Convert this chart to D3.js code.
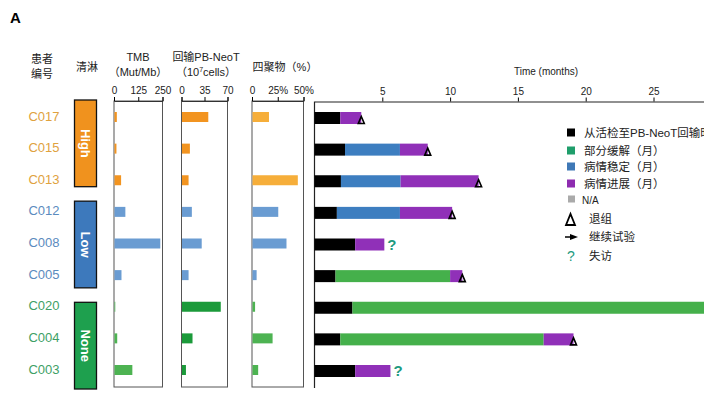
<!DOCTYPE html>
<html>
<head>
<meta charset="utf-8">
<script src="https://cdn.jsdelivr.net/npm/d3@7"></script>
<style>
  body { margin: 0; background: #fff; }
  svg text { font-family: "Liberation Sans", Arial, "Noto Sans CJK SC", sans-serif; }
  .narrow { font-family: "Liberation Sans Narrow", "Arial Narrow", "Liberation Sans", sans-serif !important; }
  .cjk { font-family: "Liberation Sans", "Noto Sans CJK SC", sans-serif !important; }
</style>
</head>
<body>
<div id="chart"></div>
<script>
// patients, top to bottom
const patients = ['C017', 'C015', 'C013', 'C012', 'C008', 'C005', 'C020', 'C004', 'C003'];
const groups = ['High', 'High', 'High', 'Low', 'Low', 'Low', 'None', 'None', 'None'];
const groupNames = ['High', 'Low', 'None'];

// small panels
const tmb = [12, 10, 34, 56, 236, 36, 4, 14, 92];
const neoT = [40, 12, 10, 15, 30, 10, 59, 16, 6];
const tetramer = [16, 0, 44, 25, 33, 4, 2.5, 19.5, 5.5];
const tmbTicks = [0, 125, 250];
const neoTicks = [0, 35, 70];
const tetTicks = [0, 25, 50];

// swimmer segments (months)
const toInfusion = [1.9, 2.25, 1.95, 1.65, 3.0, 1.55, 2.8, 1.9, 3.0];
const partial = [0, 0, 0, 0, 0, 8.45, 27.2, 15.0, 0];
const stable = [0, 4.05, 4.4, 4.65, 0, 0, 0, 0, 0];
const progress = [1.55, 2.05, 5.75, 3.85, 2.15, 0.9, 0, 2.2, 2.6];
const endMark = ['tri', 'tri', 'tri', 'tri', 'q', 'tri', '', 'tri', 'q'];
const timeTicks = [5, 10, 15, 20, 25];

const legendItems = ['从活检至PB-NeoT回输时间（月）', '部分缓解（月）', '病情稳定（月）', '病情进展（月）', 'N/A'];
const legendMarks = ['退组', '继续试验', '失访'];

const width = 704, height = 396;
const svg = d3.select('#chart').append('svg')
  .attr('width', width).attr('height', height);

const labelColor = { High: '#E0A23E', Low: '#5B8BBE', None: '#3E9F66' };
const boxColor = { High: '#F0921E', Low: '#3D79BC', None: '#1EA04E' };
const barColor = { High: '#F29420', Low: '#6A9CD2', None: '#4DB352' };
const neoColor = { High: '#F29420', Low: '#6A9CD2', None: '#1B9A3A' };
const tetColor = { High: '#F6AE3A', Low: '#6A9CD2', None: '#4DB352' };
const segColors = { black: '#000000', partial: '#45B04B', stable: '#3D7EC0', progress: '#9030B8' };

const y = d3.scalePoint().domain(patients).range([117, 370]);

svg.append('text').attr('x', 10).attr('y', 23)
  .style('font-weight', 700).style('font-size', '15px').text('A');

// headers
const hdr = svg.append('g').attr('class', 'cjk').style('font-size', '11px').attr('text-anchor', 'middle').attr('fill', '#222');
hdr.append('text').attr('class', 'cjk').attr('x', 42).attr('y', 63).text('患者');
hdr.append('text').attr('class', 'cjk').attr('x', 42).attr('y', 78).text('编号');
hdr.append('text').attr('class', 'cjk').attr('x', 87).attr('y', 71).text('清淋');
hdr.append('text').attr('class', 'cjk').attr('x', 138).attr('y', 61).text('TMB');
hdr.append('text').attr('class', 'cjk').attr('x', 138).attr('y', 76).text('（Mut/Mb）');
hdr.append('text').attr('class', 'cjk').attr('x', 206).attr('y', 61).text('回输PB-NeoT');
const t2 = hdr.append('text').attr('class', 'cjk').attr('x', 206).attr('y', 76);
t2.append('tspan').text('（10');
t2.append('tspan').attr('dy', -4).style('font-size', '7px').text('7');
t2.append('tspan').attr('dy', 4).text('cells）');
hdr.append('text').attr('class', 'cjk').attr('x', 285).attr('y', 71).text('四聚物（%）');

// patient labels
svg.append('g').selectAll('text').data(patients).join('text')
  .attr('x', 44).attr('y', d => y(d) - 1)
  .attr('text-anchor', 'middle').attr('dominant-baseline', 'central')
  .style('font-size', '13px')
  .attr('fill', (d, i) => labelColor[groups[i]])
  .text(d => d);

// group boxes (evenly spaced, with gaps between groups)
const boxY = d3.scaleBand().domain(groupNames).range([100, 389]).paddingInner(0.143).paddingOuter(0);
groupNames.forEach(g => {
  const y0 = boxY(g), h = boxY.bandwidth();
  svg.append('rect')
    .attr('x', 74.5).attr('y', y0).attr('width', 22).attr('height', h)
    .attr('fill', boxColor[g]).attr('stroke', '#111').attr('stroke-width', 1.3);
  svg.append('text')
    .attr('transform', `translate(85.5,${y0 + h / 2}) rotate(90)`)
    .attr('text-anchor', 'middle').attr('dominant-baseline', 'central')
    .attr('fill', '#fff').style('font-weight', 700).style('font-size', '13px')
    .text(g);
});

// small bar panels
const panelTop = 101, panelBottom = 387;
function panel(values, domain, ticks, x0, x1, colors, fmt) {
  const xs = d3.scaleLinear().domain(domain).range([x0, x1]);
  const g = svg.append('g');
  g.append('rect').attr('x', x0).attr('y', panelTop)
    .attr('width', x1 - x0).attr('height', panelBottom - panelTop)
    .attr('fill', 'none').attr('stroke', '#555').attr('stroke-width', 1);
  const ax = g.append('g').attr('transform', `translate(0,${panelTop})`)
    .call(d3.axisTop(xs).tickValues(ticks).tickSize(4).tickFormat(fmt));
  ax.select('.domain').attr('stroke', '#333');
  ax.selectAll('text').attr('class', 'narrow').style('font-size', '10px').attr('fill', '#222');
  g.selectAll('.bar').data(values).join('rect')
    .attr('x', xs(0) + 0.5)
    .attr('y', (d, i) => y(patients[i]) - 5)
    .attr('width', d => Math.max(0, xs(d) - xs(0)))
    .attr('height', 10)
    .attr('fill', (d, i) => colors[groups[i]]);
}
panel(tmb, [0, 250], tmbTicks, 114, 162.5, barColor, d => d);
panel(neoT, [0, 70], neoTicks, 181.5, 227.5, neoColor, d => d);
panel(tetramer, [0, 50], tetTicks, 252, 303.5, tetColor, d => d === 0 ? '0' : d + '%');

// swimmer plot
const x = d3.scaleLinear().domain([0, 30]).range([314.5, 314.5 + 30 * 13.56]);
const axisG = svg.append('g').attr('transform', 'translate(0,101.5)')
  .call(d3.axisTop(x).tickValues(timeTicks).tickSize(4).tickSizeOuter(0));
axisG.select('.domain').attr('stroke', '#222').attr('stroke-width', 1.2);
axisG.selectAll('text').attr('class', 'narrow').style('font-size', '10px').attr('fill', '#222');
svg.append('line').attr('x1', 314.5).attr('x2', 314.5).attr('y1', 101.5).attr('y2', 388)
  .attr('stroke', '#222').attr('stroke-width', 1.2);
svg.append('text').attr('class', 'narrow').attr('x', 546).attr('y', 75)
  .attr('text-anchor', 'middle').style('font-size', '10px').attr('fill', '#222')
  .text('Time (months)');

const rows = patients.map((p, i) => ({
  id: p, black: toInfusion[i], stable: stable[i], partial: partial[i], progress: progress[i]
}));
const keys = ['black', 'stable', 'partial', 'progress'];
const stacked = d3.stack().keys(keys)(rows);
const barH = 12;
svg.append('g').selectAll('g').data(stacked).join('g')
  .attr('fill', d => segColors[d.key])
  .selectAll('rect').data(d => d).join('rect')
  .attr('x', d => x(d[0]))
  .attr('y', d => y(d.data.id) + 1 - barH / 2)
  .attr('width', d => x(d[1]) - x(d[0]))
  .attr('height', barH);

// end markers
rows.forEach((r, i) => {
  const end = x(r.black + r.stable + r.partial + r.progress);
  const cy = y(r.id) + 1;
  if (endMark[i] === 'tri') {
    svg.append('path')
      .attr('d', `M${end - 3},${cy + 5.5} L${end + 3},${cy + 5.5} L${end},${cy - 1.5} Z`)
      .attr('fill', 'none').attr('stroke', '#000').attr('stroke-width', 1.6);
  } else if (endMark[i] === 'q') {
    svg.append('text').attr('x', end + 3).attr('y', cy + 5)
      .style('font-size', '15px').style('font-weight', 700).attr('fill', '#1E9A7E').text('?');
  }
});

// legend
const legColors = ['#000000', '#1F9E6B', '#3F78B6', '#8E2CB0', '#AAAAAA'];
const legY = [133, 151, 167, 184, 200];
legendItems.forEach((t, i) => {
  svg.append('rect').attr('x', i === 4 ? 568 : 567).attr('y', legY[i] - 4.5)
    .attr('width', i === 4 ? 7 : 8).attr('height', i === 4 ? 7 : 8).attr('fill', legColors[i]);
  svg.append('text').attr('class', i === 4 ? 'narrow' : 'cjk')
    .attr('x', i === 4 ? 582 : 584).attr('y', legY[i]).attr('dominant-baseline', 'central')
    .style('font-size', i === 4 ? '10px' : '11.5px').attr('fill', '#222').text(t);
});
const markY = [219, 237, 256];
svg.append('path').attr('d', `M566,${markY[0] + 6} L575,${markY[0] + 6} L570.5,${markY[0] - 5} Z`)
  .attr('fill', 'none').attr('stroke', '#000').attr('stroke-width', 1.8);
svg.append('line').attr('x1', 565).attr('x2', 572).attr('y1', markY[1]).attr('y2', markY[1])
  .attr('stroke', '#000').attr('stroke-width', 1.5);
svg.append('path').attr('d', `M570,${markY[1] - 3} L578,${markY[1]} L570,${markY[1] + 3} Z`).attr('fill', '#000');
svg.append('text').attr('x', 567).attr('y', markY[2] + 5)
  .style('font-size', '14px').attr('fill', '#1E9A7E').text('?');
legendMarks.forEach((t, i) => {
  svg.append('text').attr('class', 'cjk').attr('x', 589).attr('y', markY[i])
    .attr('dominant-baseline', 'central').style('font-size', '11.5px').attr('fill', '#222').text(t);
});
</script>
</body>
</html>
